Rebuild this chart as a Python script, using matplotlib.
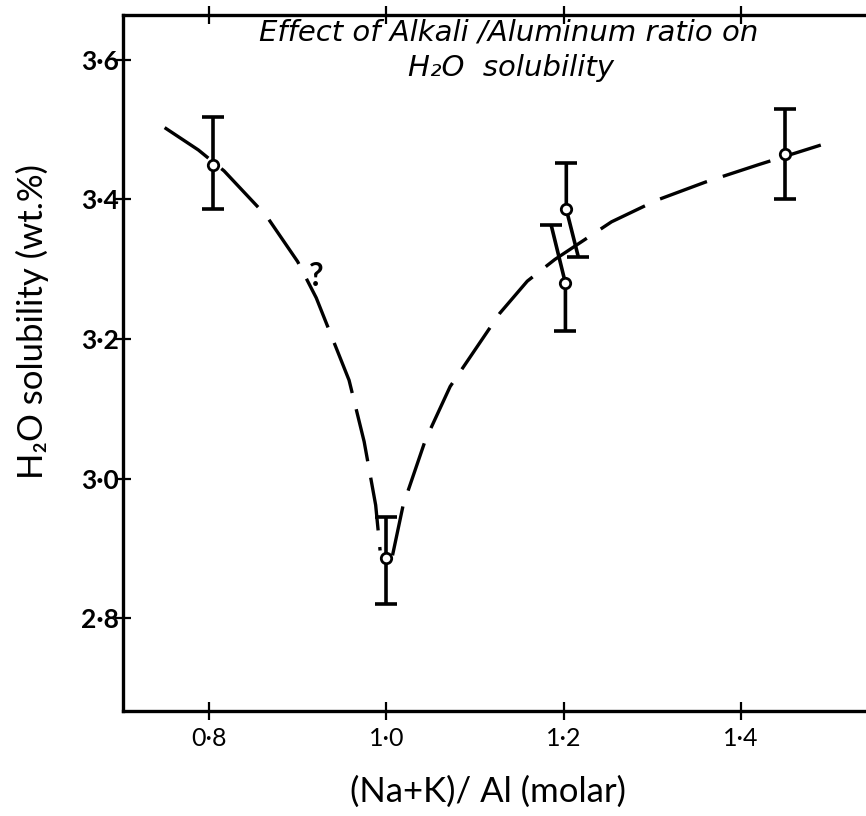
import matplotlib
matplotlib.use("Agg")
import matplotlib.pyplot as plt

plt.rcParams['font.family'] = ['Lato', 'DejaVu Sans']

# measured points (x, value, lower / upper error)
pt_x = [0.805, 1.0, 1.203, 1.202, 1.45]
pt_y = [3.449, 2.886, 3.386, 3.280, 3.465]
err_lo = [0.063, 0.065, 0.068, 0.069, 0.065]
err_hi = [0.069, 0.059, 0.066, 0.083, 0.065]
# the two bars at 1.2 are drawn leaning apart in the original
top_shift = [0, 0, 0, -0.016, 0]
bot_shift = [0, 0, 0.0135, 0, 0]

# hand drawn dashed trend
left_x = [0.750, 0.788, 0.817, 0.865, 0.900, 0.921, 0.958, 0.975, 0.988, 0.993]
left_y = [3.503, 3.471, 3.441, 3.376, 3.311, 3.259, 3.141, 3.053, 2.962, 2.897]
right_x = [1.007, 1.019, 1.044, 1.072, 1.128, 1.159, 1.190, 1.254, 1.305, 1.36, 1.42, 1.49]
right_y = [2.890, 2.962, 3.055, 3.132, 3.237, 3.283, 3.314, 3.368, 3.399, 3.425, 3.450, 3.478]

xticks = [0.8, 1.0, 1.2, 1.4]
xlabels = ['0\u00b78', '1\u00b70', '1\u00b72', '1\u00b74']
yticks = [2.8, 3.0, 3.2, 3.4, 3.6]
ylabels = ['2\u00b78', '3\u00b70', '3\u00b72', '3\u00b74', '3\u00b76']

fig = plt.figure(figsize=(8.66, 8.16), dpi=100)
ax = fig.add_axes([0.142, 0.1287, 0.858, 0.853])

ax.plot(left_x, left_y, color='black', lw=2.4, dashes=(16, 5), solid_capstyle='round')
ax.plot(right_x, right_y, color='black', lw=2.4, dashes=(15, 5), solid_capstyle='round')

for i in range(len(pt_x)):
    x, y = pt_x[i], pt_y[i]
    xt, yt = x + top_shift[i], y + err_hi[i]
    xb, yb = x + bot_shift[i], y - err_lo[i]
    ax.plot([xt, x, xb], [yt, y, yb], color='black', lw=2.6, solid_capstyle='butt')
    ax.plot([xt, xb], [yt, yb], ls='none', marker='_', ms=16, mew=2.6, color='black')

ax.plot(pt_x, pt_y, 'o', ms=7.5, mfc='white', mec='black', mew=2, zorder=5)

ax.text(0.921, 3.29, '?', fontsize=23, fontweight='bold', ha='center', va='center')

ax.set_xlim(0.703, 1.541)
ax.set_ylim(2.667, 3.6645)
ax.set_xticks(xticks)
ax.set_xticklabels(xlabels)
ax.set_yticks(yticks)
ax.set_yticklabels(ylabels, fontweight='bold')

ax.spines['right'].set_visible(False)
for s in ['left', 'bottom', 'top']:
    ax.spines[s].set_linewidth(2.4)
ax.tick_params(axis='x', which='both', direction='inout', length=13, width=1.6,
               top=True, labelsize=18, pad=5)
ax.tick_params(axis='y', which='both', direction='inout', length=12, width=1.6,
               labelsize=19, pad=-3)

ax.set_xlabel('(Na+K)/ Al (molar)', fontsize=25, va='center')
ax.xaxis.set_label_coords(0.491, -0.116)
ax.set_ylabel('H\u2082O solubility (wt.%)', fontsize=25, va='center')
ax.yaxis.set_label_coords(-0.122, 0.559)

title_font = ['DejaVu Sans']
fig.text(0.587, 0.960, 'Effect of Alkali /Aluminum ratio on', fontsize=21,
         family=title_font, style='italic', ha='center', va='center')
fig.text(0.59, 0.917, 'H\u2082O  solubility', fontsize=21,
         family=title_font, style='italic', ha='center', va='center')

fig.savefig('out.png', dpi=100)
